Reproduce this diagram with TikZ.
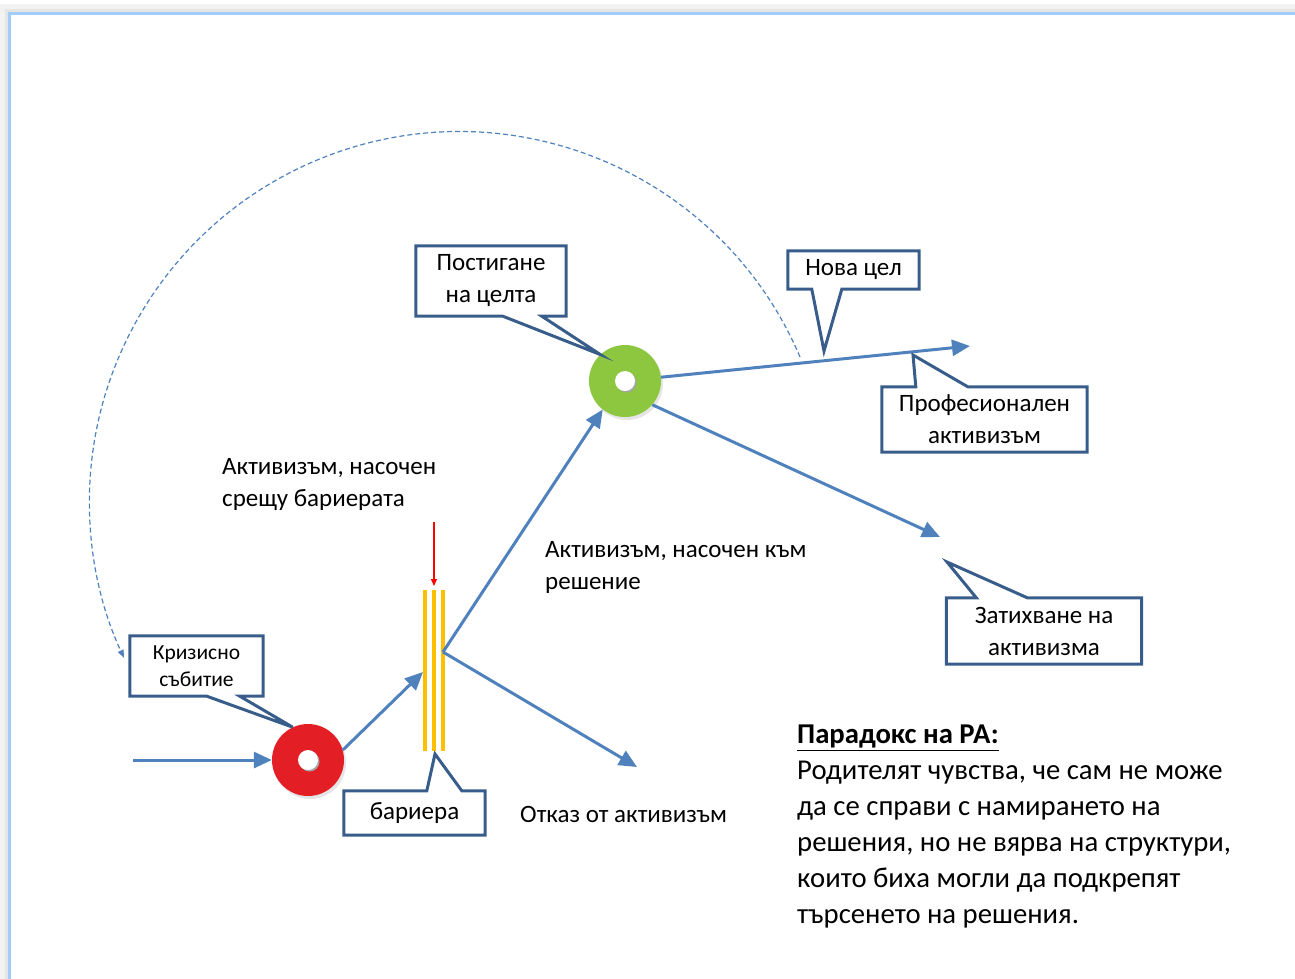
\documentclass[tikz,border=0pt]{standalone}
\usepackage{fontspec}
\setmainfont{Carlito}
\usetikzlibrary{arrows.meta}

\definecolor{flowblue}{RGB}{79,129,189}
\definecolor{boxblue}{RGB}{56,93,138}
\definecolor{crisisred}{RGB}{227,30,36}
\definecolor{goalgreen}{RGB}{141,198,63}
\definecolor{barrieryellow}{RGB}{255,192,0}
\definecolor{frameblue}{RGB}{160,205,250}

\begin{document}
\begin{tikzpicture}[x=1pt, y=-1pt]
  \tikzstyle{every node}=[font=\fontsize{25}{32}\selectfont]
  \tikzstyle{flow}=[draw=flowblue, line width=3pt, -{Triangle[length=18pt, width=16pt]}]
  \tikzstyle{callout}=[draw=boxblue, line width=3pt, line join=miter]
  \tikzstyle{boxtext}=[inner sep=0pt, align=center]
  \tikzstyle{stage}=[circle, inner sep=0pt, minimum size=72pt]
  \tikzstyle{label}=[anchor=west, align=left, inner sep=0pt]

  \useasboundingbox (0, 0) rectangle (1295, 978);

  % slide frame with its shadow
  \draw[black!5, line width=6pt] (3, 990) -- (3, 7) -- (1305, 7);
  \draw[black!10, line width=3pt] (6, 990) -- (6, 10) -- (1305, 10);
  \draw[frameblue, line width=3pt] (9, 990) -- (9, 13) -- (1305, 13);

  % the two stages
  \fill[black!25, opacity=0.4] (310, 763) circle (36);
  \node[stage, fill=crisisred] (crisis) at (308, 760) {};
  \fill[black!35] (309.5, 761.5) circle (10);
  \fill[white] (308, 760) circle (10);

  \fill[black!25, opacity=0.4] (627, 384) circle (36);
  \node[stage, fill=goalgreen] (green) at (625, 381) {};
  \fill[black!35] (626.5, 382.5) circle (10);
  \fill[white] (625, 381) circle (10);

  % barrier
  \foreach \x in {425, 433.7, 442.5}
    \draw[barrieryellow, line width=4pt] (\x, 590) -- (\x, 751);
  \coordinate (pushtop) at (434, 522);
  \coordinate (pushend) at (434, 586);
  \draw[red, line width=1.2pt, -{Triangle[length=7pt, width=6pt]}] (pushtop) -- (pushend);

  \coordinate (start) at (133, 760);
  \coordinate (barrierin) at (423, 672);
  \coordinate (bpt) at (443, 652);
  \coordinate (quit) at (637, 767);
  \coordinate (newgoal) at (970, 346);
  \coordinate (fade) at (940, 537);

  \draw[flow] (start) -- (crisis.west);
  \draw[flow] (crisis.16) -- (barrierin);
  \draw[flow] (bpt) -- (green.232);
  \draw[flow] (bpt) -- (quit);
  \draw[flow] (green.6) -- (newgoal);
  \draw[flow] (green.-41) -- (fade);

  % back to a new crisis
  \coordinate (loopstart) at (800, 357);
  \draw[flowblue, line width=1.2pt, dash pattern=on 5pt off 3pt,
        -{Triangle[length=8pt, width=6pt]}]
    (loopstart) arc[start angle=-23, end angle=-205, radius=370];

  % callouts
  \node[boxtext, minimum width=150pt, minimum height=70pt] (goal) at (491, 281) {Постигане\\на целта};
  \draw[callout] (goal.south west) -- (goal.north west) -- (goal.north east) -- (goal.south east)
    -- ([xshift=126pt]goal.south west) -- (green.133) -- ([xshift=87pt]goal.south west) -- cycle;

  \coordinate (newtip) at (824, 351);
  \node[boxtext, minimum width=131pt, minimum height=38pt] (nova) at (853.5, 270) {Нова цел};
  \draw[callout] (nova.south west) -- (nova.north west) -- (nova.north east) -- (nova.south east)
    -- ([xshift=54pt]nova.south west) -- (newtip) -- ([xshift=24pt]nova.south west) -- cycle;

  \coordinate (protip) at (913, 355);
  \node[boxtext, minimum width=205pt, minimum height=65pt] (pro) at (984.5, 419.5) {Професионален\\активизъм};
  \draw[callout] (pro.north west) -- ([xshift=34pt]pro.north west) -- (protip) -- ([xshift=86pt]pro.north west)
    -- (pro.north east) -- (pro.south east) -- (pro.south west) -- cycle;

  \coordinate (fadetip) at (947, 562);
  \node[boxtext, minimum width=195pt, minimum height=66pt] (calm) at (1044, 631) {Затихване на\\активизма};
  \draw[callout] (calm.north west) -- ([xshift=30pt]calm.north west) -- (fadetip) -- ([xshift=81pt]calm.north west)
    -- (calm.north east) -- (calm.south east) -- (calm.south west) -- cycle;

  \node[boxtext, minimum width=133pt, minimum height=60pt, font=\fontsize{21.5}{27}\selectfont] (event) at (196.5, 666) {Кризисно\\събитие};
  \draw[callout] (event.south west) -- (event.north west) -- (event.north east) -- (event.south east)
    -- ([xshift=110pt]event.south west) -- (crisis.115) -- ([xshift=77pt]event.south west) -- cycle;

  \coordinate (bartip) at (435, 754);
  \node[boxtext, minimum width=141pt, minimum height=44pt] (bar) at (414.5, 813) {бариера};
  \draw[callout] (bar.north west) -- ([xshift=83pt]bar.north west) -- (bartip) -- ([xshift=118pt]bar.north west)
    -- (bar.north east) -- (bar.south east) -- (bar.south west) -- cycle;

  % free labels
  \node[label] (against) at (222, 485) {Активизъм, насочен\\срещу бариерата};
  \node[label] (toward) at (545, 567) {Активизъм, насочен към\\решение};
  \node[label] (refusal) at (520, 814) {Отказ от активизъм};

  \node[anchor=north west, align=left, inner sep=0pt, font=\fontsize{28.7}{36}\selectfont] (paradox) at (797, 725)
    {\textbf{\underline{Парадокс на РА:}}\\
     Родителят чувства, че сам не може\\
     да се справи с намирането на\\
     решения, но не вярва на структури,\\
     които биха могли да подкрепят\\
     търсенето на решения.};
\end{tikzpicture}
\end{document}
